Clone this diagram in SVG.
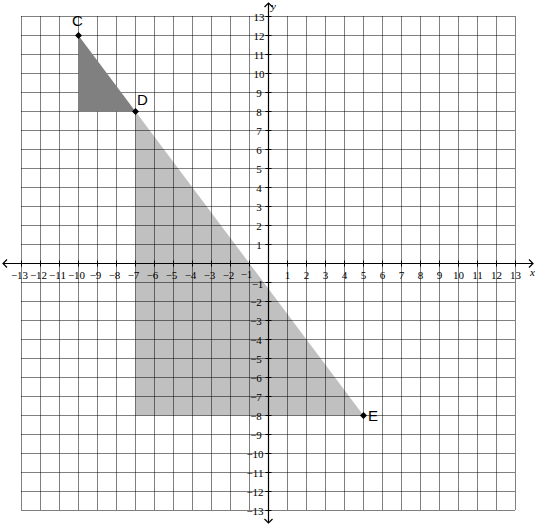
<svg xmlns="http://www.w3.org/2000/svg" width="536" height="526" viewBox="0 0 536 526">
<style>
.grid{stroke:#000;stroke-width:1;stroke-dasharray:1,1;fill:none}
.axis{stroke:#000;stroke-width:1.2;fill:none}
.tick{stroke:#000;stroke-width:1;fill:none}
.num{font-family:"Liberation Serif","Times New Roman",serif;font-size:11px;fill:#000}
.xl text{text-anchor:middle}
.yl text{text-anchor:middle}
.ax{font-family:"Liberation Serif","Times New Roman",serif;font-size:11px;font-style:italic;fill:#000}
.pt{font-family:"Liberation Sans",Arial,sans-serif;font-size:15px;fill:#000}
</style>
<rect width="536" height="526" fill="#fff"/>
<polygon id="light-region" points="135.5,111.5 135.5,415.5 363.5,415.5" fill="#c0c0c0"/>
<g id="grid">
<path class="grid" d="M21.5,16.5V510.5M40.5,16.5V510.5M59.5,16.5V510.5M78.5,16.5V510.5M97.5,16.5V510.5M116.5,16.5V510.5M135.5,16.5V510.5M154.5,16.5V510.5M173.5,16.5V510.5M192.5,16.5V510.5M211.5,16.5V510.5M230.5,16.5V510.5M249.5,16.5V510.5M287.5,16.5V510.5M306.5,16.5V510.5M325.5,16.5V510.5M344.5,16.5V510.5M363.5,16.5V510.5M382.5,16.5V510.5M401.5,16.5V510.5M420.5,16.5V510.5M439.5,16.5V510.5M458.5,16.5V510.5M477.5,16.5V510.5M496.5,16.5V510.5M515.5,16.5V510.5"/>
<path class="grid" d="M21.5,16.5H515.5M21.5,35.5H515.5M21.5,54.5H515.5M21.5,73.5H515.5M21.5,92.5H515.5M21.5,111.5H515.5M21.5,130.5H515.5M21.5,149.5H515.5M21.5,168.5H515.5M21.5,187.5H515.5M21.5,206.5H515.5M21.5,225.5H515.5M21.5,244.5H515.5M21.5,282.5H515.5M21.5,301.5H515.5M21.5,320.5H515.5M21.5,339.5H515.5M21.5,358.5H515.5M21.5,377.5H515.5M21.5,396.5H515.5M21.5,415.5H515.5M21.5,434.5H515.5M21.5,453.5H515.5M21.5,472.5H515.5M21.5,491.5H515.5M21.5,510.5H515.5"/>
</g>
<polygon id="dark-region" points="78.5,35.5 78.5,111.5 135.5,111.5" fill="#808080"/>
<g id="axes">
<path class="axis" d="M3,263.5H533M268.5,3V523"/>
<path class="axis" d="M7,259.5L3,263.5L7,267.5M529,259.5L533,263.5L529,267.5M264.5,7L268.5,3L272.5,7M264.5,519L268.5,523L272.5,519"/>
<path class="tick" d="M21.5,260.5v6M40.5,260.5v6M59.5,260.5v6M78.5,260.5v6M97.5,260.5v6M116.5,260.5v6M135.5,260.5v6M154.5,260.5v6M173.5,260.5v6M192.5,260.5v6M211.5,260.5v6M230.5,260.5v6M249.5,260.5v6M287.5,260.5v6M306.5,260.5v6M325.5,260.5v6M344.5,260.5v6M363.5,260.5v6M382.5,260.5v6M401.5,260.5v6M420.5,260.5v6M439.5,260.5v6M458.5,260.5v6M477.5,260.5v6M496.5,260.5v6M515.5,260.5v6"/>
<path class="tick" d="M265.5,16.5h6M265.5,35.5h6M265.5,54.5h6M265.5,73.5h6M265.5,92.5h6M265.5,111.5h6M265.5,130.5h6M265.5,149.5h6M265.5,168.5h6M265.5,187.5h6M265.5,206.5h6M265.5,225.5h6M265.5,244.5h6M265.5,282.5h6M265.5,301.5h6M265.5,320.5h6M265.5,339.5h6M265.5,358.5h6M265.5,377.5h6M265.5,396.5h6M265.5,415.5h6M265.5,434.5h6M265.5,453.5h6M265.5,472.5h6M265.5,491.5h6M265.5,510.5h6"/>
<text class="ax" x="530" y="276">x</text>
<text class="ax" x="271" y="10">y</text>
</g>
<g class="num xl" id="x-labels">
<text x="19.5" y="279">−13</text><text x="38.5" y="279">−12</text><text x="57.5" y="279">−11</text><text x="76.5" y="279">−10</text><text x="95.5" y="279">−9</text><text x="114.5" y="279">−8</text><text x="133.5" y="279">−7</text><text x="152.5" y="279">−6</text><text x="171.5" y="279">−5</text><text x="190.5" y="279">−4</text><text x="209.5" y="279">−3</text><text x="228.5" y="279">−2</text><text x="246.5" y="278">−1</text>
<text x="287.5" y="279">1</text><text x="306.5" y="279">2</text><text x="325.5" y="279">3</text><text x="344.5" y="279">4</text><text x="363.5" y="279">5</text><text x="382.5" y="279">6</text><text x="401.5" y="279">7</text><text x="420.5" y="279">8</text><text x="439.5" y="279">9</text><text x="458.5" y="279">10</text><text x="477.5" y="279">11</text><text x="496.5" y="279">12</text><text x="515.5" y="279">13</text>
</g>
<g class="num yl" id="y-labels">
<text x="259" y="20.5">13</text><text x="259" y="39.5">12</text><text x="259" y="58.5">11</text><text x="259" y="77.5">10</text><text x="259" y="96.5">9</text><text x="259" y="115.5">8</text><text x="259" y="134.5">7</text><text x="259" y="153.5">6</text><text x="259" y="172.5">5</text><text x="259" y="191.5">4</text><text x="259" y="210.5">3</text><text x="259" y="229.5">2</text><text x="259" y="248.5">1</text>
<text x="257.5" y="287.5">−1</text><text x="256" y="305.5">−2</text><text x="256" y="324.5">−3</text><text x="256" y="343.5">−4</text><text x="256" y="362.5">−5</text><text x="256" y="381.5">−6</text><text x="256" y="400.5">−7</text><text x="256" y="419.5">−8</text><text x="256" y="438.5">−9</text><text x="255" y="457.5">−10</text><text x="255" y="476.5">−11</text><text x="255" y="495.5">−12</text><text x="255" y="514.5">−13</text>
</g>
<g id="point-C"><polygon points="78.5,32 82,35.5 78.5,39 75,35.5" fill="#000"/><text class="pt" x="72" y="26">C</text></g>
<g id="point-D"><polygon points="135.5,108 139,111.5 135.5,115 132,111.5" fill="#000"/><text class="pt" x="137" y="105">D</text></g>
<g id="point-E"><polygon points="363.5,412 367,415.5 363.5,419 360,415.5" fill="#000"/><text class="pt" x="368" y="421">E</text></g>
</svg>
